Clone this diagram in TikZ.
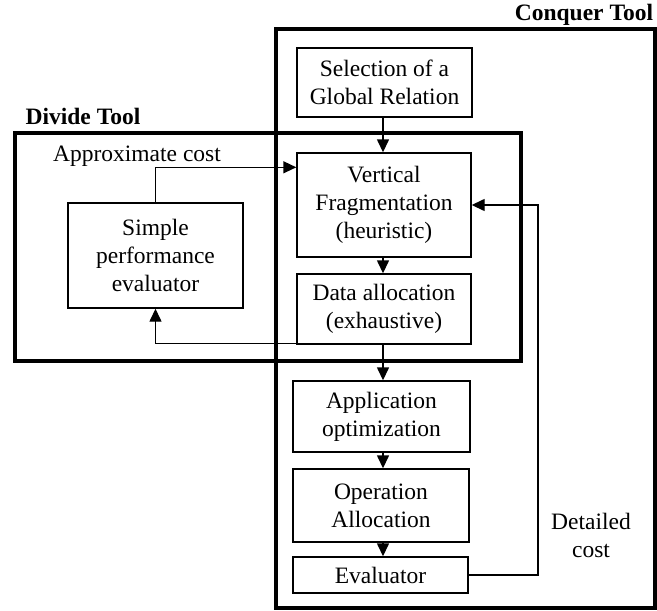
\documentclass[tikz,border=0pt]{standalone}
\usepackage{fontspec}
\setmainfont{Liberation Serif}
\usetikzlibrary{arrows.meta,calc}
\begin{document}
\begin{tikzpicture}[x=1pt,y=-1pt,
  txt/.style={font=\fontsize{23.5}{28}\selectfont, align=center, inner sep=0pt},
  stepbox/.style={txt, draw, line width=1.4pt, fill=white},
  toolframe/.style={draw, line width=3.8pt},
  toollabel/.style={font=\fontsize{23.5}{28}\selectfont\bfseries, inner sep=0pt},
  arr/.style={line width=1.4pt, -{Triangle[length=13pt,width=12pt]}}]
\useasboundingbox (0,0) rectangle (657,611);

% the two tool frames
\draw[toolframe] (276,29) rectangle (655,608);
\draw[toolframe] (15,133) rectangle (521,361);
\node[toollabel] (conquerlbl) at (584,15) {Conquer Tool};
\node[toollabel] (dividelbl) at (83,116) {Divide Tool};

% process steps
\node[stepbox, minimum width=175pt, minimum height=69pt] (sel) at (384.5,82.5) {Selection of a\\Global Relation};
\node[stepbox, minimum width=174pt, minimum height=104pt] (frag) at (384,205) {Vertical\\Fragmentation\\(heuristic)};
\node[stepbox, minimum width=174pt, minimum height=70pt] (data) at (384,309) {Data allocation\\(exhaustive)};
\node[stepbox, minimum width=175pt, minimum height=105pt] (simple) at (155.5,255.5) {Simple\\performance\\evaluator};
\node[stepbox, minimum width=177pt, minimum height=71pt] (app) at (381.5,416.5) {Application\\optimization};
\node[stepbox, minimum width=176pt, minimum height=73pt] (op) at (381,505.5) {Operation\\Allocation};
\node[stepbox, minimum width=175pt, minimum height=36pt] (eval) at (380.5,575) {Evaluator};

% labels of the feedback loops
\node[txt] (approx) at (137,156) {Approximate cost};
\node[txt] (detailed) at (591,535) {Detailed\\cost};

% main flow
\coordinate (mainx) at (383,0);
\draw[arr] (sel.south -| mainx) -- (frag.north -| mainx);
\draw[arr] (frag.south -| mainx) -- (data.north -| mainx);
\draw[arr] (data.south -| mainx) -- (app.north -| mainx);
\draw[arr] (app.south -| mainx) -- (op.north -| mainx);
\draw[arr] (op.south -| mainx) -- (eval.north -| mainx);

% approximate cost loop
\draw[arr] (simple.north) |- ([yshift=-15pt]frag.north west);
\draw[arr] ([yshift=1pt]data.south west) -| (simple.south);

% detailed cost loop
\coordinate (fb) at (538,0);
\draw[arr] (eval.east) -- (eval.east -| fb) -- (frag.east -| fb) -- (frag.east);
\end{tikzpicture}
\end{document}
